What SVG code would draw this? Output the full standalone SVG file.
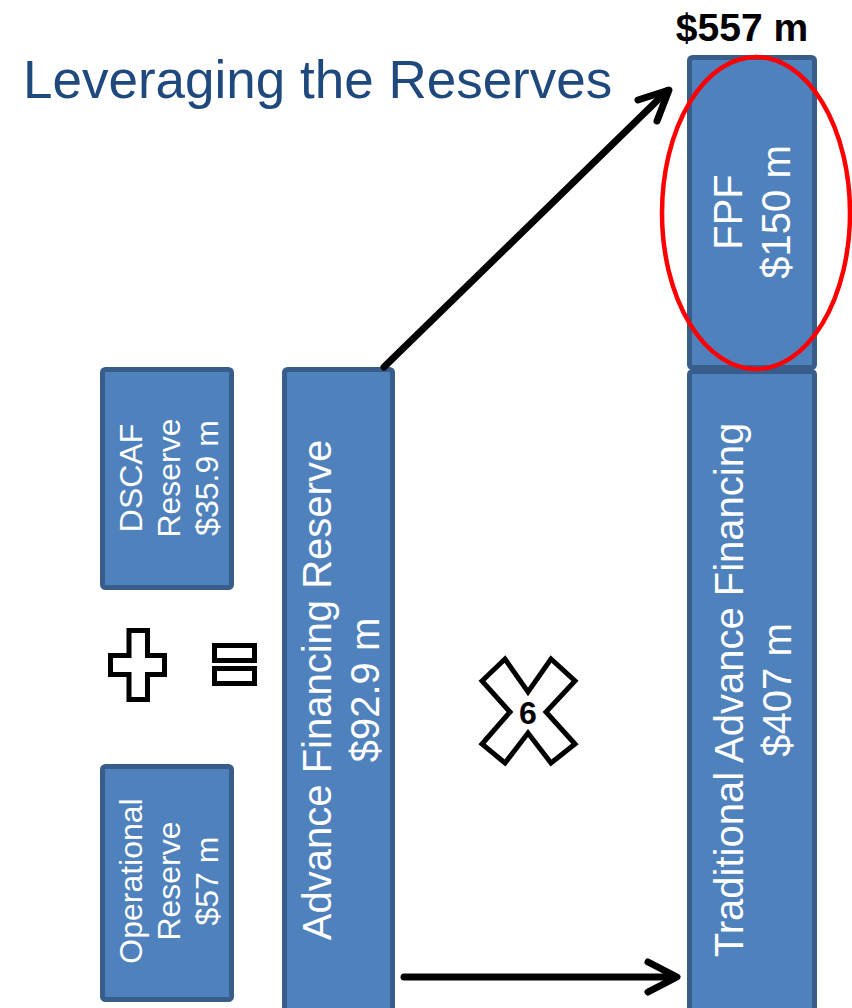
<svg xmlns="http://www.w3.org/2000/svg" width="852" height="1008" viewBox="0 0 852 1008">
<style>
.box{fill:#4f81bd;stroke:#385d8a;stroke-width:5}
.bt{font-family:"Liberation Sans",Arial,sans-serif;fill:#ffffff;text-anchor:middle}
.s{font-size:32px}
.l{font-size:40px}
.sym{fill:#ffffff;stroke:#000000;stroke-width:5;stroke-linejoin:miter}
.arr{fill:none;stroke:#000000;stroke-width:7;stroke-linecap:round;stroke-linejoin:round}
</style>
<rect width="852" height="1008" fill="#ffffff"/>
<text x="23" y="98" font-family="Liberation Sans,Arial,sans-serif" font-size="53" fill="#1f497d">Leveraging the Reserves</text>
<text x="742" y="41" font-family="Liberation Sans,Arial,sans-serif" font-size="39" font-weight="bold" fill="#000000" text-anchor="middle">$557 m</text>

<g id="dscaf">
<rect class="box" x="102.5" y="369.5" width="129" height="218" rx="3"/>
<text class="bt s" transform="translate(0,478) rotate(-90)"><tspan x="0" y="142">DSCAF</tspan><tspan x="0" y="180">Reserve</tspan><tspan x="0" y="218">$35.9 m</tspan></text>
</g>
<g id="operational">
<rect class="box" x="102.5" y="766.5" width="129" height="233" rx="3"/>
<text class="bt s" transform="translate(0,881) rotate(-90)"><tspan x="0" y="142">Operational</tspan><tspan x="0" y="180">Reserve</tspan><tspan x="0" y="218">$57 m</tspan></text>
</g>
<g id="afr">
<rect class="box" x="284.5" y="369.5" width="108" height="660" rx="3"/>
<text class="bt l" transform="translate(0,690) rotate(-90)"><tspan x="0" y="331">Advance Financing Reserve</tspan><tspan x="0" y="379">$92.9 m</tspan></text>
</g>
<g id="traditional">
<rect class="box" x="689.5" y="371.5" width="125" height="660" rx="3"/>
<text class="bt l" transform="translate(0,690) rotate(-90)"><tspan x="0" y="743">Traditional Advance Financing</tspan><tspan x="0" y="791">$407 m</tspan></text>
</g>
<g id="fpf">
<rect class="box" x="689.5" y="57.5" width="125" height="310" rx="3"/>
<text class="bt l" transform="translate(0,212) rotate(-90)"><tspan x="0" y="742">FPF</tspan><tspan x="0" y="790">$150 m</tspan></text>
</g>
<g id="highlight">
<ellipse cx="756" cy="213" rx="94" ry="156" fill="none" stroke="#ff0000" stroke-width="4.5"/>
</g>
<g id="plus">
<polygon class="sym" points="129,630.5 147.5,630.5 147.5,655.5 164.5,655.5 164.5,674.5 147.5,674.5 147.5,699.5 129,699.5 129,674.5 110.5,674.5 110.5,655.5 129,655.5"/>
</g>
<g id="equals">
<rect class="sym" x="214.5" y="645.5" width="40" height="15"/>
<rect class="sym" x="214.5" y="668.5" width="40" height="15"/>
</g>
<g id="times6">
<polygon class="sym" stroke-width="4" points="482,681 505,659 528,692 551,659 575,681 546,712 575,744 551,763 528,733 505,763 482,744 510,712"/>
<text x="528" y="724" font-family="Liberation Sans,Arial,sans-serif" font-size="32" font-weight="bold" fill="#000000" text-anchor="middle">6</text>
</g>
<g id="connectors">
<path class="arr" d="M384,367 L667,91"/>
<path class="arr" d="M638,100 L669,90 L657,121"/>
<path class="arr" d="M404,977 L675,977"/>
<path class="arr" d="M648,962 L677,977 L648,992"/>
</g>
</svg>
